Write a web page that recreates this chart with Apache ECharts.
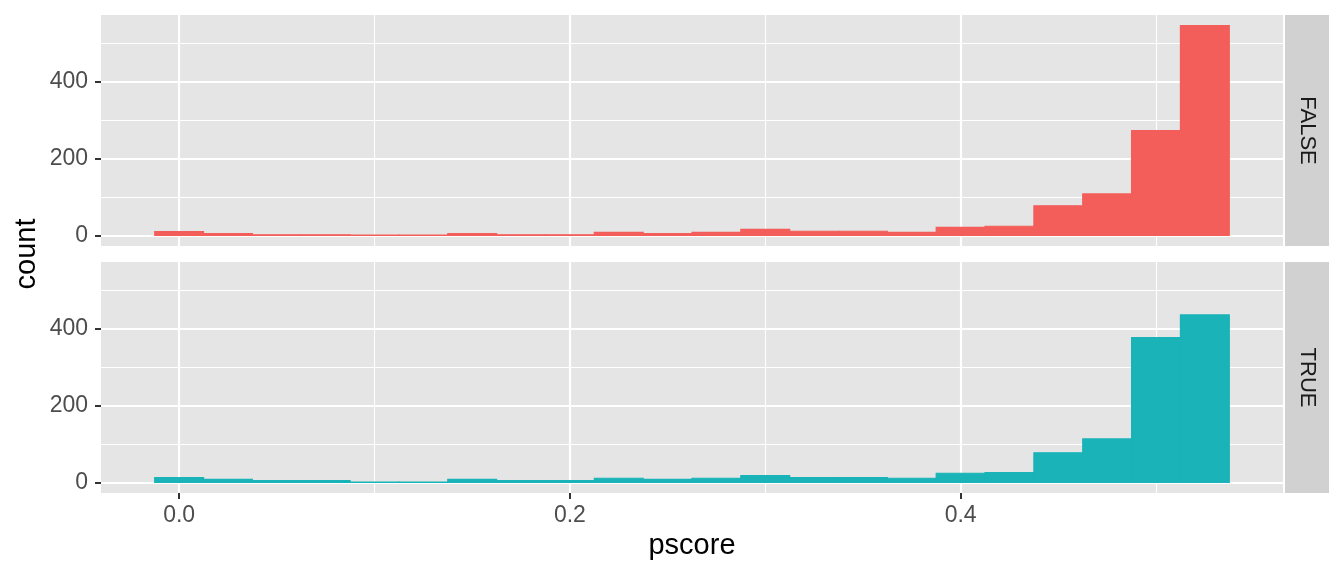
<!DOCTYPE html>
<html>
<head>
    <meta charset="UTF-8">
    <title>pscore</title>
    <style type="text/css">
        html, body {
            margin: 0;
            padding: 0;
            background: #ffffff;
        }

        #chart {
            width: 1344px;
            height: 576px;
        }
    </style>
    <script type="text/javascript" src="https://cdn.jsdelivr.net/npm/echarts@6/dist/echarts.min.js"></script>
</head>
<body>
<div id="chart"></div>
<script type="text/javascript">
    // histogram bins (centres), width 0.025
    var binCenters = [0, 0.025, 0.05, 0.075, 0.1, 0.125, 0.15, 0.175, 0.2, 0.225, 0.25,
        0.275, 0.3, 0.325, 0.35, 0.375, 0.4, 0.425, 0.45, 0.475, 0.5, 0.525];
    var binWidth = 0.025;
    var countFalse = [10, 5, 2, 2, 1, 1, 5, 2, 2, 8, 5, 8, 16, 11, 11, 8, 21, 24, 77, 108, 272, 545];
    var countTrue = [13, 8, 5, 5, 1, 1, 8, 5, 5, 11, 8, 11, 18, 13, 13, 11, 24, 26, 77, 113, 376, 435];
    var facetNames = ['FALSE', 'TRUE'];
    var facetColors = ['#F35E5A', '#19B3B8'];
    var xTicks = [0, 0.2, 0.4];
    var yTicks = [0, 200, 400];

    var textFont = "'Liberation Sans', Arial, Helvetica, sans-serif";
    var panelTops = [15, 262];
    var panelLeft = 101, panelW = 1182, panelH = 231;

    function binsOf(counts) {
        var out = [];
        for (var i = 0; i < binCenters.length; i++) {
            out.push([binCenters[i] - binWidth / 2, binCenters[i] + binWidth / 2, counts[i]]);
        }
        return out;
    }

    // one rect per bin, from the bin edges down to 0
    function renderBar(params, api) {
        var p0 = api.coord([api.value(0), api.value(2)]);
        var p1 = api.coord([api.value(1), 0]);
        var c = api.visual('color');
        return {
            type: 'rect',
            shape: {x: p0[0], y: p0[1], width: p1[0] - p0[0], height: p1[1] - p0[1]},
            style: {fill: c, stroke: c, lineWidth: 1.2, opacity: 1}
        };
    }

    var allCounts = [countFalse, countTrue];
    var grids = [], xAxes = [], yAxes = [], series = [], graphics = [];

    for (var g = 0; g < 2; g++) {
        var bottom = (g === 1);
        grids.push({
            left: panelLeft, top: panelTops[g], width: panelW, height: panelH,
            show: true, backgroundColor: '#E5E5E5', borderWidth: 0
        });
        xAxes.push({
            type: 'value', gridIndex: g, min: -0.04, max: 0.565, splitNumber: 3,
            axisLine: {show: false, onZero: false},
            axisTick: {show: bottom, customValues: xTicks, length: 6, lineStyle: {color: '#333333', width: 2}},
            axisLabel: {
                show: bottom, customValues: xTicks, color: '#4D4D4D', fontSize: 23, fontFamily: textFont, margin: 11,
                formatter: function (v) { return v.toFixed(1); }
            },
            splitLine: {show: true, lineStyle: {color: '#ffffff', width: 2.2}},
            minorTick: {show: false, splitNumber: 2},
            minorSplitLine: {show: true, lineStyle: {color: '#ffffff', width: 1.1}},
            name: bottom ? 'pscore' : '',
            nameLocation: 'middle', nameGap: 38,
            nameTextStyle: {color: '#000000', fontSize: 29, fontFamily: textFont}
        });
        yAxes.push({
            type: 'value', gridIndex: g, min: -27.25, max: 572.25, splitNumber: 3,
            axisLine: {show: false, onZero: false},
            axisTick: {show: true, customValues: yTicks, length: 6, lineStyle: {color: '#333333', width: 2}},
            axisLabel: {customValues: yTicks, color: '#4D4D4D', fontSize: 23, fontFamily: textFont, margin: 13},
            splitLine: {show: true, lineStyle: {color: '#ffffff', width: 2.2}},
            minorTick: {show: false, splitNumber: 2},
            minorSplitLine: {show: true, lineStyle: {color: '#ffffff', width: 1.1}}
        });
        series.push({
            type: 'custom', name: facetNames[g], xAxisIndex: g, yAxisIndex: g,
            renderItem: renderBar, encode: {x: [0, 1], y: 2},
            itemStyle: {color: facetColors[g], opacity: 1},
            data: binsOf(allCounts[g]), z: 3
        });
        // facet strip on the right
        graphics.push({
            type: 'rect', left: 1285, top: panelTops[g],
            shape: {width: 44, height: panelH},
            style: {fill: '#D1D1D1'}, silent: true
        });
        graphics.push({
            type: 'text', x: 1307, y: panelTops[g] + panelH / 2, rotation: -Math.PI / 2,
            style: {
                text: facetNames[g], fill: '#1A1A1A', fontSize: 22, fontFamily: textFont,
                align: 'center', verticalAlign: 'middle'
            }
        });
    }

    graphics.push({
        type: 'text', x: 27, y: (panelTops[0] + panelTops[1] + panelH) / 2, rotation: Math.PI / 2,
        style: {
            text: 'count', fill: '#000000', fontSize: 29, fontFamily: textFont,
            align: 'center', verticalAlign: 'middle'
        }
    });

    var chart = echarts.init(document.getElementById('chart'));
    chart.setOption({
        animation: false,
        backgroundColor: '#ffffff',
        grid: grids,
        xAxis: xAxes,
        yAxis: yAxes,
        series: series,
        graphic: graphics
    });
</script>
</body>
</html>
